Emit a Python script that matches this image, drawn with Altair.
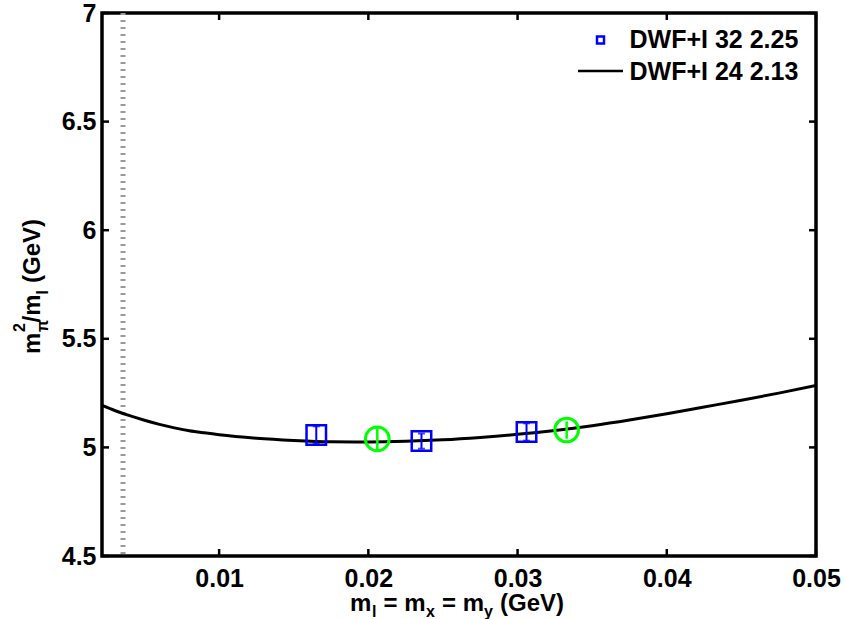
import altair as alt
import pandas as pd

# ---------------- data ----------------
curve_x = [0.00215, 0.003, 0.004, 0.005, 0.006, 0.007, 0.008, 0.009, 0.01, 0.0125, 0.015,
           0.0175, 0.02, 0.0225, 0.025, 0.0275, 0.03, 0.0325, 0.035, 0.0375, 0.04, 0.0425,
           0.045, 0.0475, 0.05]
curve_y = [5.193, 5.170, 5.146, 5.125, 5.106, 5.090, 5.077, 5.067, 5.058, 5.042, 5.032,
           5.026, 5.025, 5.028, 5.035, 5.046, 5.060, 5.078, 5.100, 5.126, 5.155, 5.186,
           5.217, 5.250, 5.285]

sq_x = [0.01651, 0.02356, 0.0306]
sq_y = [5.057, 5.029, 5.071]
sq_err = [0.040, 0.035, 0.040]

circ_x = [0.0206, 0.03329]
circ_y = [5.039, 5.080]
circ_err = [0.050, 0.040]

vline_x = [0.00356]

x_ticks = [0.01, 0.02, 0.03, 0.04, 0.05]
y_ticks = [4.5, 5.0, 5.5, 6.0, 6.5, 7.0]

legend_labels = ["DWF+I 32 2.25", "DWF+I 24 2.13"]

X_DOMAIN = [0.00215, 0.05]
Y_DOMAIN = [4.5, 7.0]

W, H = 714, 543
FONT = "Liberation Sans"
BLUE = "#0000ff"
GREEN = "#00ff00"

xs = alt.Scale(domain=X_DOMAIN, zero=False, nice=False)
ys = alt.Scale(domain=Y_DOMAIN, zero=False, nice=False)

curve_df = pd.DataFrame({"x": curve_x, "y": curve_y})
sq_df = pd.DataFrame({"x": sq_x, "y": sq_y, "lo": [a - b for a, b in zip(sq_y, sq_err)],
                      "hi": [a + b for a, b in zip(sq_y, sq_err)]})
circ_df = pd.DataFrame({"x": circ_x, "y": circ_y, "lo": [a - b for a, b in zip(circ_y, circ_err)],
                        "hi": [a + b for a, b in zip(circ_y, circ_err)]})
vline_df = pd.DataFrame({"x": vline_x})
xt_df = pd.DataFrame({"v": x_ticks})
yt_df = pd.DataFrame({"v": y_ticks})

X = alt.X("x:Q", scale=xs, title=None,
          axis=alt.Axis(values=x_ticks, labelExpr="format(datum.value, '.2f')", ticks=False,
                        tickSize=0, domain=False, grid=False, labelFont=FONT, labelFontSize=25,
                        labelFontWeight="bold", labelColor="black", labelPadding=10,
                        labelFlush=False))
Y = alt.Y("y:Q", scale=ys, title=None,
          axis=alt.Axis(values=y_ticks, labelExpr="'' + datum.value", ticks=False, tickSize=0,
                        domain=False, grid=False, labelFont=FONT, labelFontSize=25,
                        labelFontWeight="bold", labelColor="black", labelPadding=6,
                        labelFlush=False))

vline = alt.Chart(vline_df).mark_rule(color="#9a9a9a", strokeWidth=5, strokeDash=[2, 5]).encode(
    x=alt.X("x:Q", scale=xs), y=alt.value(0), y2=alt.value(H))

curve = alt.Chart(curve_df).mark_line(color="black", strokeWidth=3, interpolate="monotone",
                                      clip=True).encode(x=X, y=Y)

sq_err_rule = alt.Chart(sq_df).mark_rule(color=BLUE, strokeWidth=2).encode(
    x=alt.X("x:Q", scale=xs), y=alt.Y("lo:Q", scale=ys), y2="hi:Q")
sq_cap_lo = alt.Chart(sq_df).mark_tick(color=BLUE, thickness=2, size=7, orient="horizontal").encode(
    x=alt.X("x:Q", scale=xs), y=alt.Y("lo:Q", scale=ys))
sq_cap_hi = alt.Chart(sq_df).mark_tick(color=BLUE, thickness=2, size=7, orient="horizontal").encode(
    x=alt.X("x:Q", scale=xs), y=alt.Y("hi:Q", scale=ys))
squares = alt.Chart(sq_df).mark_point(shape="square", size=380, filled=False, color=BLUE,
                                      strokeWidth=2.5, opacity=1).encode(
    x=alt.X("x:Q", scale=xs), y=alt.Y("y:Q", scale=ys))

circ_err_rule = alt.Chart(circ_df).mark_rule(color=GREEN, strokeWidth=2.5).encode(
    x=alt.X("x:Q", scale=xs), y=alt.Y("lo:Q", scale=ys), y2="hi:Q")
circles = alt.Chart(circ_df).mark_point(shape="circle", size=560, filled=False, color=GREEN,
                                        strokeWidth=3, opacity=1).encode(
    x=alt.X("x:Q", scale=xs), y=alt.Y("y:Q", scale=ys))

# inward ticks on all four sides
tick_style = dict(color="black", strokeWidth=2.5)
xt_bottom = alt.Chart(xt_df).mark_rule(**tick_style).encode(
    x=alt.X("v:Q", scale=xs), y=alt.value(H), y2=alt.value(H - 7))
xt_top = alt.Chart(xt_df).mark_rule(**tick_style).encode(
    x=alt.X("v:Q", scale=xs), y=alt.value(0), y2=alt.value(7))
yt_left = alt.Chart(yt_df).mark_rule(**tick_style).encode(
    y=alt.Y("v:Q", scale=ys), x=alt.value(0), x2=alt.value(7))
yt_right = alt.Chart(yt_df).mark_rule(**tick_style).encode(
    y=alt.Y("v:Q", scale=ys), x=alt.value(W), x2=alt.value(W - 7))

one = pd.DataFrame({"k": [0]})


def txt(s, x, y, size=24, angle=0):
    return alt.Chart(one).mark_text(text=s, font=FONT, fontWeight="bold", fontSize=size,
                                    align="left", baseline="alphabetic", angle=angle,
                                    color="black").encode(x=alt.value(x), y=alt.value(y))


# x-axis title:  m_l = m_x = m_y (GeV)
xb, xs_b = 598, 604
xtitle = [
    txt("m", 248, xb), txt("l", 270, xs_b, 16),
    txt("= m", 281.5, xb), txt("x", 324, xs_b, 16),
    txt("= m", 340, xb), txt("y", 382, xs_b, 16),
    txt("(GeV)", 398, xb),
]

# y-axis title:  m^2_pi / m_l (GeV), rotated
yb, ysup, ysub = -62.5, -77.5, -54.5
ytitle = [
    txt("m", yb, 341, 24, 270),
    txt("2", ysup, 319, 16, 270),
    txt("π", ysub, 319, 16, 270),
    txt("/m", yb, 309.5, 24, 270),
    txt("l", ysub, 281.5, 16, 270),
    txt("(GeV)", yb, 270, 24, 270),
]

# legend
leg_sq = alt.Chart(one).mark_point(shape="square", size=49, filled=False, color=BLUE,
                                   strokeWidth=2.5, opacity=1).encode(
    x=alt.value(498.5), y=alt.value(27))
leg_line = alt.Chart(one).mark_rule(color="black", strokeWidth=2.5).encode(
    x=alt.value(476), x2=alt.value(521), y=alt.value(58))
legend = [leg_sq, txt(legend_labels[0], 527.5, 35, 25), leg_line,
          txt(legend_labels[1], 527.5, 67, 25)]

chart = alt.layer(
    vline, curve, sq_err_rule, sq_cap_lo, sq_cap_hi, squares, circ_err_rule, circles,
    xt_bottom, xt_top, yt_left, yt_right, *xtitle, *ytitle, *legend
).properties(
    width=W, height=H,
    background="white",
    padding={"left": 102, "top": 13, "right": 28, "bottom": 63},
    autosize=alt.AutoSizeParams(type="none"),
).configure_view(
    stroke="black", strokeWidth=3.5
)

chart.save("out.html", embed_options={"renderer": "svg", "actions": False})
